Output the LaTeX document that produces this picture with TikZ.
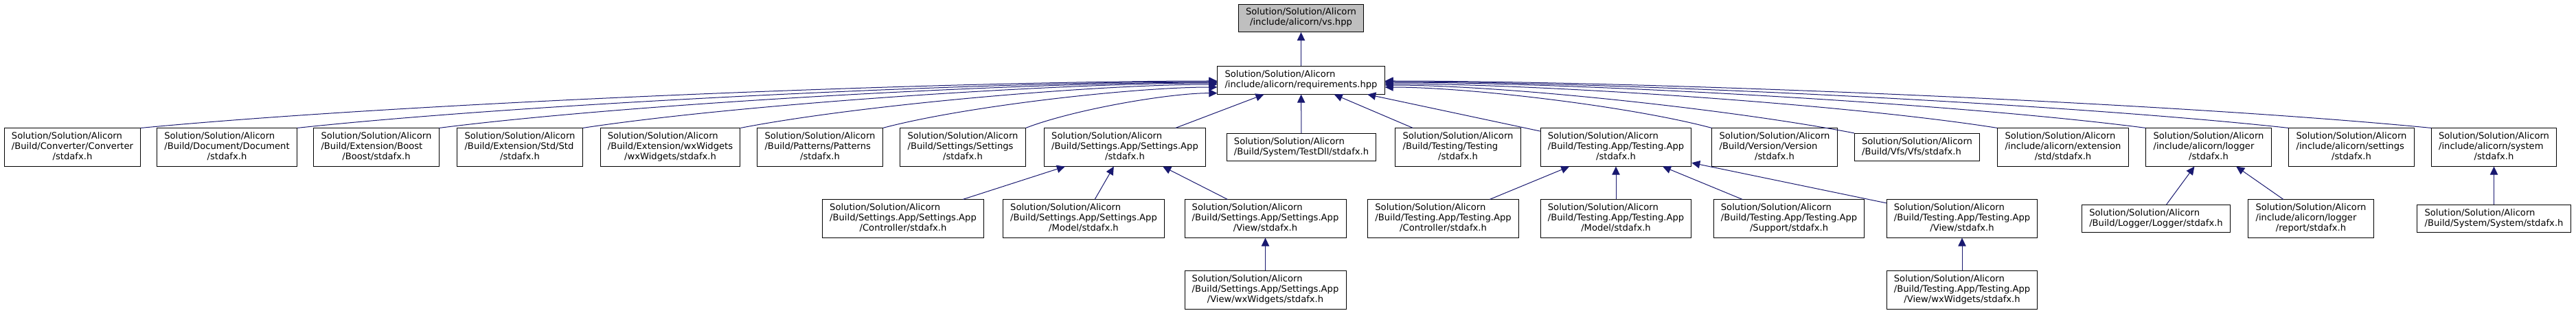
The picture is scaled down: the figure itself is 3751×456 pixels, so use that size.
\documentclass[tikz,border=0pt]{standalone}
\usepackage{fontspec}
\setmainfont{DejaVu Sans}
\usetikzlibrary{arrows.meta}
\definecolor{edgeblue}{rgb}{0.098,0.098,0.439}
\definecolor{topgray}{rgb}{0.75,0.75,0.75}
\newcommand{\sol}{Solution/Solution/Alicorn}
\newcommand{\filetwo}[2]{\begin{tabular}{@{}l@{}}#1\\#2\end{tabular}}
\newcommand{\filethree}[3]{\begin{tabular}{@{}l@{}}#1\\#2\\\multicolumn{1}{@{}c@{}}{#3}\end{tabular}}

\begin{document}
\begin{tikzpicture}[x=0.75pt,y=-0.75pt,
  filebox/.style={draw=black,line width=0.75pt,fill=white,inner xsep=8pt,inner ysep=3.8pt,
    font=\fontsize{9.85}{11.25}\selectfont},
  incl/.style={draw=edgeblue,line width=0.75pt,-{Triangle[length=9pt,width=8.5pt]}}]
  \useasboundingbox (0,0) rectangle (3751,456);
  % file that is documented
  \node[filebox,fill=topgray] (vs) at (1894.5,26.5) {\begin{tabular}{@{}c@{}}\sol\\/include/alicorn/vs.hpp\end{tabular}};
  \node[filebox] (req) at (1894.5,117) {\filetwo{\sol}{/include/alicorn/requirements.hpp}};
  % files that include requirements.hpp
  \node[filebox] (conv) at (105.5,214.5) {\filethree{\sol}{/Build/Converter/Converter}{/stdafx.h}};
  \node[filebox] (doc) at (330.5,214.5) {\filethree{\sol}{/Build/Document/Document}{/stdafx.h}};
  \node[filebox] (boost) at (548,214.5) {\filethree{\sol}{/Build/Extension/Boost}{/Boost/stdafx.h}};
  \node[filebox] (std) at (757,214.5) {\filethree{\sol}{/Build/Extension/Std/Std}{/stdafx.h}};
  \node[filebox] (wx) at (976,214.5) {\filethree{\sol}{/Build/Extension/wxWidgets}{/wxWidgets/stdafx.h}};
  \node[filebox] (pat) at (1194,214.5) {\filethree{\sol}{/Build/Patterns/Patterns}{/stdafx.h}};
  \node[filebox] (set) at (1402,214.5) {\filethree{\sol}{/Build/Settings/Settings}{/stdafx.h}};
  \node[filebox] (setapp) at (1638,214.5) {\filethree{\sol}{/Build/Settings.App/Settings.App}{/stdafx.h}};
  \node[filebox] (testdll) at (1895,214.5) {\filetwo{\sol}{/Build/System/TestDll/stdafx.h}};
  \node[filebox] (testing) at (2123,214.5) {\filethree{\sol}{/Build/Testing/Testing}{/stdafx.h}};
  \node[filebox] (testapp) at (2353,214.5) {\filethree{\sol}{/Build/Testing.App/Testing.App}{/stdafx.h}};
  \node[filebox] (version) at (2584,214.5) {\filethree{\sol}{/Build/Version/Version}{/stdafx.h}};
  \node[filebox] (vfs) at (2791.5,214.5) {\filetwo{\sol}{/Build/Vfs/Vfs/stdafx.h}};
  \node[filebox] (extstd) at (3004,214.5) {\filethree{\sol}{/include/alicorn/extension}{/std/stdafx.h}};
  \node[filebox] (logger) at (3216,214.5) {\filethree{\sol}{/include/alicorn/logger}{/stdafx.h}};
  \node[filebox] (settings) at (3424,214.5) {\filethree{\sol}{/include/alicorn/settings}{/stdafx.h}};
  \node[filebox] (system) at (3631.5,214.5) {\filethree{\sol}{/include/alicorn/system}{/stdafx.h}};
  % third rank
  \node[filebox] (sctrl) at (1315,318.5) {\filethree{\sol}{/Build/Settings.App/Settings.App}{/Controller/stdafx.h}};
  \node[filebox] (smodel) at (1578,318.5) {\filethree{\sol}{/Build/Settings.App/Settings.App}{/Model/stdafx.h}};
  \node[filebox] (sview) at (1842.5,318.5) {\filethree{\sol}{/Build/Settings.App/Settings.App}{/View/stdafx.h}};
  \node[filebox] (tctrl) at (2101.5,318.5) {\filethree{\sol}{/Build/Testing.App/Testing.App}{/Controller/stdafx.h}};
  \node[filebox] (tmodel) at (2353,318.5) {\filethree{\sol}{/Build/Testing.App/Testing.App}{/Model/stdafx.h}};
  \node[filebox] (tsupport) at (2605,318.5) {\filethree{\sol}{/Build/Testing.App/Testing.App}{/Support/stdafx.h}};
  \node[filebox] (tview) at (2857,318.5) {\filethree{\sol}{/Build/Testing.App/Testing.App}{/View/stdafx.h}};
  \node[filebox] (llogger) at (3139.5,318.5) {\filetwo{\sol}{/Build/Logger/Logger/stdafx.h}};
  \node[filebox] (lreport) at (3365,318.5) {\filethree{\sol}{/include/alicorn/logger}{/report/stdafx.h}};
  \node[filebox] (ssystem) at (3631.5,318.5) {\filetwo{\sol}{/Build/System/System/stdafx.h}};
  % fourth rank
  \node[filebox] (swx) at (1842.5,422.5) {\filethree{\sol}{/Build/Settings.App/Settings.App}{/View/wxWidgets/stdafx.h}};
  \node[filebox] (twx) at (2857,422.5) {\filethree{\sol}{/Build/Testing.App/Testing.App}{/View/wxWidgets/stdafx.h}};
  % include edges
  \draw[incl] (req) -- (vs);
  \foreach \n/\k/\h/\dy in {conv/390/37/-0.75pt, doc/335/36/-1.5pt, boost/283/36/-2.25pt,
      std/230/35/-3pt, wx/175/34/-4.5pt, pat/120/32/-7.5pt, set/70/27/-14pt}
    \draw[incl] (\n.north east) .. controls +(\k,-\h) and +(-\k,0) .. ([yshift=\dy]req.west);
  \foreach \n/\k/\h/\dy in {version/120/32/-7.5pt, vfs/175/34/-5.25pt, extstd/222/35/-3.75pt,
      logger/276/36/-2.25pt, settings/330/36/-1.5pt, system/380/37/-0.75pt}
    \draw[incl] (\n.north west) .. controls +(-\k,-\h) and +(\k,0) .. ([yshift=\dy]req.east);
  \foreach \n in {setapp,testdll,testing,testapp}
    \draw[incl] (\n) -- (req);
  \foreach \c/\p in {sctrl/setapp, smodel/setapp, sview/setapp, swx/sview,
      tctrl/testapp, tmodel/testapp, tsupport/testapp, tview/testapp, twx/tview,
      llogger/logger, lreport/logger, ssystem/system}
    \draw[incl] (\c) -- (\p);
\end{tikzpicture}
\end{document}
